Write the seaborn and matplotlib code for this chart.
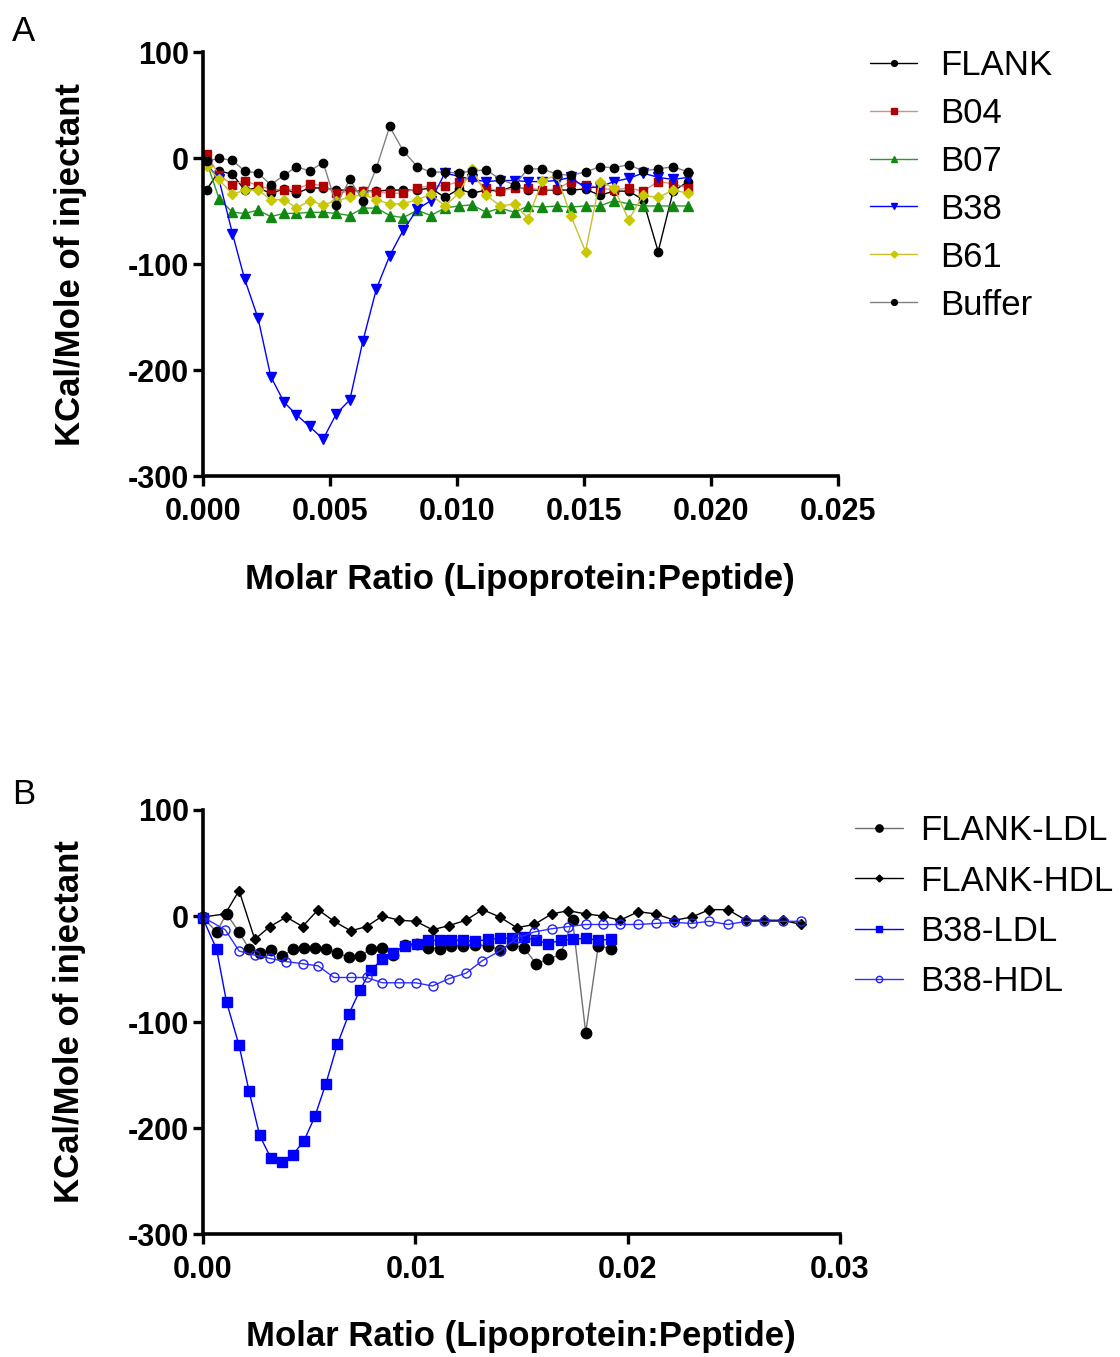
import numpy as np
import pandas as pd
import seaborn as sns
import matplotlib
matplotlib.use('Agg')
import matplotlib.pyplot as plt
from matplotlib.ticker import FormatStrFormatter

# Painel A - molar ratio (mesma serie de injecoes para todas as curvas)
xa = [0.00015, 0.00064, 0.00117, 0.00165, 0.00218, 0.00268, 0.00320, 0.00369, 0.00421,
      0.00474, 0.00526, 0.00579, 0.00631, 0.00684, 0.00736, 0.00789, 0.00845, 0.00898,
      0.00953, 0.01008, 0.01060, 0.01117, 0.01172, 0.01228, 0.01281, 0.01337, 0.01393,
      0.01449, 0.01507, 0.01563, 0.01619, 0.01677, 0.01733, 0.01793, 0.01852, 0.01911]

flank = [-30, -12, -15, -30, -28, -33, -29, -33, -28, -28, -30, -30, -31, -31, -30, -30, -30, -28,
         -37, -29, -33, -30, -31, -26, -30, -30, -30, -30, -29, -35, -31, -31, -39, -88, -31, -22]
b04 = [4, -16, -25, -21, -26, -29, -30, -29, -24, -26, -33, -31, -31, -32, -33, -33, -28, -26,
       -26, -22, -18, -28, -31, -28, -28, -30, -29, -22, -25, -28, -30, -28, -31, -22, -24, -28]
b07 = [-3, -38, -51, -52, -49, -55, -52, -52, -51, -51, -52, -54, -47, -47, -54, -56, -49, -54,
       -47, -45, -44, -51, -47, -51, -45, -46, -45, -46, -45, -45, -40, -43, -45, -45, -45, -45]
b38 = [-5, -20, -71, -114, -151, -206, -230, -242, -253, -265, -241, -228, -172, -123, -92, -68, -48, -40,
       -14, -17, -20, -22, -21, -21, -22, -22, -21, -18, -28, -27, -22, -19, -14, -18, -20, -18]
b61 = [-7, -20, -34, -30, -30, -39, -39, -47, -40, -44, -40, -37, -34, -39, -43, -43, -39, -34,
       -45, -33, -10, -35, -45, -43, -57, -21, -16, -54, -88, -22, -28, -58, -35, -37, -30, -33]
buffer = [-3, 0, -2, -12, -14, -25, -16, -8, -12, -4, -44, -20, -40, -9, 30, 7, -8, -13,
          -13, -14, -12, -11, -20, -25, -10, -10, -15, -16, -13, -8, -9, -6, -12, -10, -8, -13]

# Painel B - LDL e HDL tem series de injecao diferentes
x_ldl = [0.00000, 0.00065, 0.00112, 0.00171, 0.00218, 0.00268, 0.00320, 0.00375, 0.00425,
         0.00477, 0.00528, 0.00580, 0.00634, 0.00689, 0.00740, 0.00791, 0.00846, 0.00896,
         0.00951, 0.01007, 0.01061, 0.01116, 0.01171, 0.01226, 0.01281, 0.01341, 0.01399,
         0.01454, 0.01512, 0.01569, 0.01626, 0.01685, 0.01741, 0.01803, 0.01862, 0.01920]
x_hdl = [0.00000, 0.00106, 0.00171, 0.00245, 0.00316, 0.00394, 0.00470, 0.00543, 0.00618,
         0.00697, 0.00771, 0.00846, 0.00925, 0.01003, 0.01082, 0.01160, 0.01239, 0.01317,
         0.01399, 0.01478, 0.01561, 0.01643, 0.01721, 0.01803, 0.01883, 0.01964, 0.02050,
         0.02134, 0.02220, 0.02302, 0.02385, 0.02472, 0.02558, 0.02644, 0.02731, 0.02817]

flank_ldl = [-1, -15, 2, -15, -31, -35, -32, -38, -31, -30, -30, -31, -35, -39, -38, -31, -30, -37,
             -27, -26, -30, -31, -28, -28, -27, -28, -32, -27, -30, -45, -41, -36, -4, -110, -28, -31]
flank_hdl = [-1, 2, 24, -22, -10, -1, -10, 6, -5, -14, -10, 0, -4, -5, -13, -9, -4, 6,
             -1, -11, -8, 2, 5, 2, 0, -4, 4, 2, -4, -1, 6, 6, -4, -4, -4, -8]
b38_ldl = [-2, -31, -81, -122, -165, -207, -228, -232, -225, -212, -189, -158, -121, -92, -70, -51, -41, -35,
           -28, -26, -23, -23, -23, -23, -24, -22, -21, -21, -20, -23, -26, -23, -22, -21, -23, -22]
b38_hdl = [-1, -13, -33, -37, -40, -43, -45, -47, -58, -58, -58, -63, -63, -63, -66, -59, -54, -42,
           -33, -21, -15, -12, -10, -8, -8, -8, -8, -7, -6, -7, -5, -8, -5, -5, -5, -5]

df_a = pd.concat([
    pd.DataFrame({'x': xa, 'y': v, 'serie': nome})
    for nome, v in [('FLANK', flank), ('B04', b04), ('B07', b07),
                    ('B38', b38), ('B61', b61), ('Buffer', buffer)]
])
df_b = pd.concat([
    pd.DataFrame({'x': x, 'y': v, 'serie': nome})
    for nome, x, v in [('FLANK-LDL', x_ldl, flank_ldl), ('FLANK-HDL', x_hdl, flank_hdl),
                       ('B38-LDL', x_ldl, b38_ldl), ('B38-HDL', x_hdl, b38_hdl)]
])

# estilo de cada curva: (marcador, cor da linha, cor do marcador, face, tamanho)
estilos_a = {
    'FLANK':  ('o', 'black',   'black',   'black',   6),
    'B04':    ('s', '#d98c8c', '#b00000', '#b00000', 6),
    'B07':    ('^', '#2a9a2a', '#118811', '#118811', 6.5),
    'B38':    ('v', '#0000ff', '#0000ff', '#0000ff', 6.5),
    'B61':    ('D', '#c4c030', '#c8c800', '#c8c800', 5),
    'Buffer': ('o', '#808080', 'black',   'black',   6),
}
estilos_b = {
    'FLANK-LDL': ('o', '#707070', 'black',   'black',   7.5),
    'FLANK-HDL': ('D', 'black',   'black',   'black',   5),
    'B38-LDL':   ('s', '#0000ff', '#0000ff', '#0000ff', 6.5),
    'B38-HDL':   ('o', '#3030ff', '#2020ff', 'none',    6.5),
}

sns.set_style("ticks")
plt.rcParams['font.family'] = ['Liberation Sans', 'DejaVu Sans']
plt.rcParams['axes.unicode_minus'] = False
for k in ['text.color', 'axes.labelcolor', 'xtick.color', 'ytick.color', 'axes.edgecolor']:
    plt.rcParams[k] = 'black'

fig = plt.figure(figsize=(11.2, 13.57), dpi=100)
ax_a = fig.add_axes([0.181, 0.649, 0.567, 0.3125])
ax_b = fig.add_axes([0.181, 0.0906, 0.569, 0.3125])


def desenha(ax, df, estilos):
    for nome, (mk, cor_linha, cor_mk, face, ms) in estilos.items():
        d = df[df['serie'] == nome]
        sns.lineplot(data=d, x='x', y='y', ax=ax, estimator=None, sort=False,
                     color=cor_linha, linewidth=1.0, marker=mk, markersize=ms,
                     markerfacecolor=face, markeredgecolor=cor_mk, markeredgewidth=1.0,
                     label=nome, clip_on=False)


def formata(ax, xmax, xstep, fmt, xlabel_y):
    ax.set_xlim(0, xmax)
    ax.set_ylim(-300, 100)
    ax.set_xticks(np.arange(0, xmax + xstep / 2, xstep))
    ax.set_yticks([-300, -200, -100, 0, 100])
    ax.xaxis.set_major_formatter(FormatStrFormatter(fmt))
    sns.despine(ax=ax)
    for s in ['left', 'bottom']:
        ax.spines[s].set_linewidth(2.6)
    ax.tick_params(axis='both', length=7, width=2.4, labelsize=22)
    ax.tick_params(axis='x', pad=8)
    ax.tick_params(axis='y', pad=3)
    for t in ax.get_xticklabels() + ax.get_yticklabels():
        t.set_fontweight('bold')
    ax.set_xlabel('Molar Ratio (Lipoprotein:Peptide)', fontsize=25, fontweight='bold')
    ax.set_ylabel('KCal/Mole of injectant', fontsize=25, fontweight='bold')
    ax.xaxis.set_label_coords(0.5, xlabel_y)
    ax.yaxis.set_label_coords(-0.183, 0.5)


desenha(ax_a, df_a, estilos_a)
formata(ax_a, 0.025, 0.005, '%.3f', -0.205)
ax_a.legend(loc='upper left', bbox_to_anchor=(0.777, 0.964), bbox_transform=fig.transFigure,
            frameon=False, fontsize=25, handlelength=1.35, handletextpad=0.65,
            labelspacing=0.43, borderaxespad=0, borderpad=0, markerscale=0.7)

desenha(ax_b, df_b, estilos_b)
formata(ax_b, 0.03, 0.01, '%.2f', -0.202)
ax_b.legend(loc='upper left', bbox_to_anchor=(0.763, 0.4), bbox_transform=fig.transFigure,
            frameon=False, fontsize=25, handlelength=1.4, handletextpad=0.5,
            labelspacing=0.5, borderaxespad=0, borderpad=0, markerscale=0.7)

fig.text(0.011, 0.989, 'A', fontsize=25, va='top', ha='left')
fig.text(0.011, 0.427, 'B', fontsize=25, va='top', ha='left')

fig.savefig('out.png', dpi=100)
